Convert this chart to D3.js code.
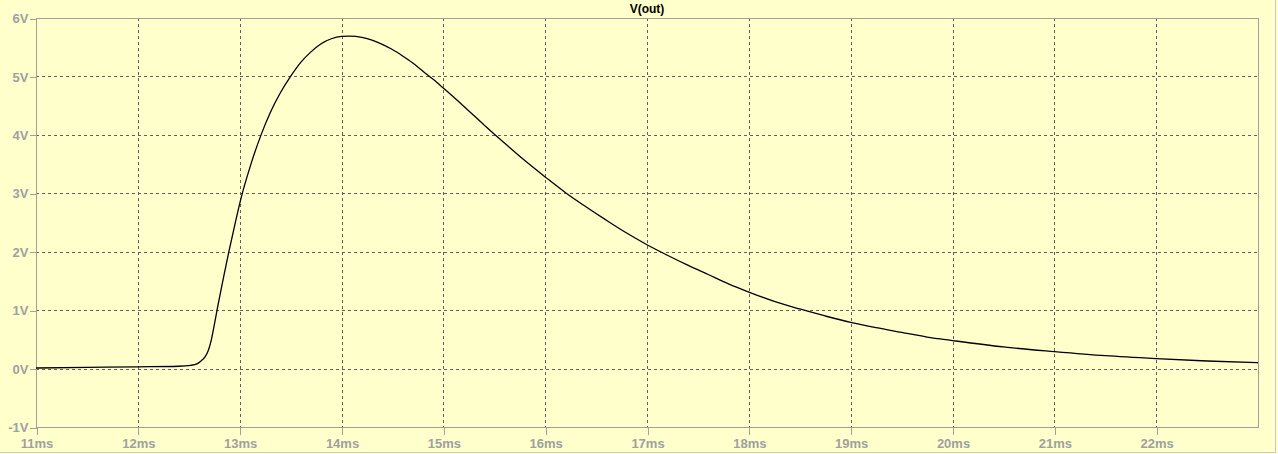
<!DOCTYPE html>
<html><head><meta charset="utf-8">
<script src="https://cdn.jsdelivr.net/npm/d3@7"></script>
<style>
html,body{margin:0;padding:0;background:#ffffcc;}
svg{display:block;}
</style></head>
<body>
<svg id="chart" width="1278" height="454"></svg>
<script>
const title = "V(out)";
const xTicks = [11,12,13,14,15,16,17,18,19,20,21,22];
const xTickLabels = ["11ms","12ms","13ms","14ms","15ms","16ms","17ms","18ms","19ms","20ms","21ms","22ms"];
const yTicks = [-1,0,1,2,3,4,5,6];
const yTickLabels = ["-1V","0V","1V","2V","3V","4V","5V","6V"];
const timeMs = [11.0,11.5,12.0,12.4,12.52,12.58,12.62,12.66,12.69,12.72,12.75,12.78,12.84,12.894,12.96,13.02,13.1,13.21,13.3,13.4,13.5,13.6,13.7,13.8,13.9,14.0,14.08,14.2,14.3,14.4,14.5,14.6,14.7,14.8,14.9,15.0,15.2,15.4,15.6,15.8,16.0,16.2,16.4,16.6,16.8,17.0,17.2,17.4,17.6,17.8,18.0,18.25,18.5,18.75,19.0,19.25,19.5,19.75,20.0,20.5,21.0,21.5,22.0,22.5,23.0];
const vout = [0.01,0.02,0.03,0.04,0.055,0.08,0.13,0.2,0.3,0.48,0.74,1.02,1.55,2.0,2.52,2.96,3.44,4.0,4.38,4.72,5.0,5.24,5.42,5.56,5.645,5.685,5.69,5.67,5.62,5.55,5.46,5.35,5.23,5.09,4.95,4.80,4.49,4.17,3.86,3.56,3.28,3.01,2.77,2.54,2.32,2.12,1.94,1.77,1.61,1.45,1.31,1.15,1.02,0.90,0.79,0.70,0.62,0.54,0.48,0.37,0.29,0.22,0.17,0.13,0.10];

const svg = d3.select("#chart");
const L = 36, R = 1258, T = 18, B = 427;
const x = d3.scaleLinear().domain([11,23]).range([L,R]);
const y = d3.scaleLinear().domain([-1,6]).range([B,T]);
const axisColor = "#a0a0a0";
const gridColor = "#606060";

// outer frame
svg.append("rect").attr("x",-1.5).attr("y",-1.5).attr("width",1277).attr("height",454)
  .attr("fill","#ffffcc").attr("stroke","#c8c8c8").attr("stroke-width",1);

// grid
const grid = svg.append("g").attr("shape-rendering","crispEdges");
grid.selectAll("line.gx").data(xTicks.filter(d=>d>11)).enter().append("line")
  .attr("x1",d=>Math.round(x(d))+0.5).attr("x2",d=>Math.round(x(d))+0.5)
  .attr("y1",T).attr("y2",B)
  .attr("stroke",gridColor).attr("stroke-dasharray","3,3");
grid.selectAll("line.gy").data(yTicks.filter(d=>d>-1&&d<6)).enter().append("line")
  .attr("y1",d=>Math.round(y(d))+0.5).attr("y2",d=>Math.round(y(d))+0.5)
  .attr("x1",L).attr("x2",R)
  .attr("stroke",gridColor).attr("stroke-dasharray","3,3");

// plot frame
svg.append("rect").attr("x",L+0.5).attr("y",T+0.5).attr("width",R-L).attr("height",B-T)
  .attr("fill","none").attr("stroke",axisColor).attr("shape-rendering","crispEdges");

// axes
const fontFam = "'Liberation Sans', Arial, sans-serif";
const yAxis = d3.axisLeft(y).tickValues(yTicks).tickSize(7).tickPadding(1)
  .tickFormat((d,i)=>yTickLabels[i]);
const gy = svg.append("g").attr("transform",`translate(${L+0.5},0.5)`).call(yAxis);
const xAxis = d3.axisBottom(x).tickValues(xTicks).tickSize(7).tickPadding(4)
  .tickFormat((d,i)=>xTickLabels[i]);
const gx = svg.append("g").attr("transform",`translate(0.5,${B+0.5})`).call(xAxis);
[gx,gy].forEach(g=>{
  g.select(".domain").remove();
  g.selectAll("line").attr("stroke",axisColor).attr("shape-rendering","crispEdges");
  g.selectAll("text").attr("fill",axisColor).style("font-family",fontFam)
    .style("font-size","13px").style("font-weight","bold");
});

// curve
const pts = timeMs.map((t,i)=>[t,vout[i]]);
svg.append("path").datum(pts)
  .attr("d",d3.line().x(d=>x(d[0])).y(d=>y(d[1])).curve(d3.curveMonotoneX))
  .attr("fill","none").attr("stroke","#000").attr("stroke-width",1.3);

// title
svg.append("text").attr("x",(L+R)/2).attr("y",13).attr("text-anchor","middle")
  .style("font-family",fontFam).style("font-size","12px").style("font-weight","bold")
  .attr("fill","#000").text(title);
</script>
</body></html>
